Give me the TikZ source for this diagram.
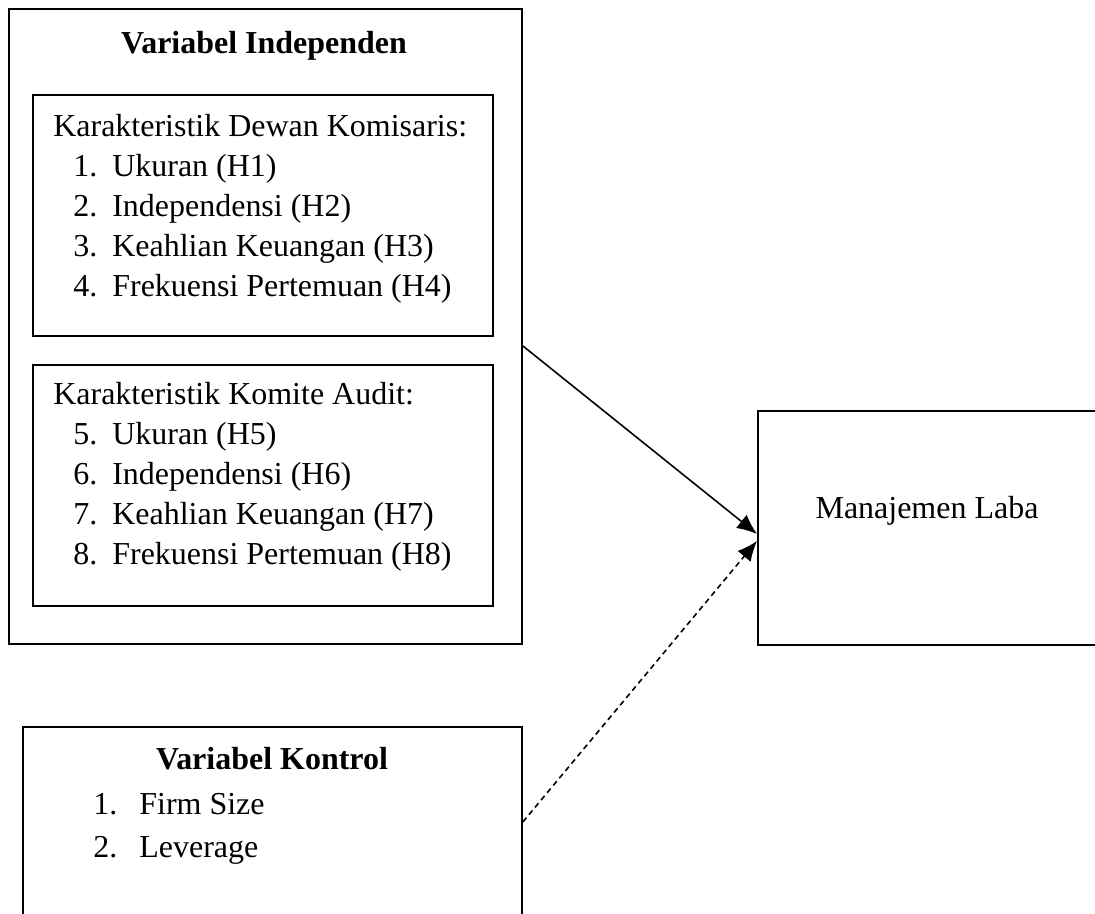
\documentclass[tikz,border=0pt]{standalone}
\usepackage{fontspec}
\setmainfont{Liberation Serif}
\usetikzlibrary{arrows.meta,positioning}

\newcommand{\nomor}[1]{\hspace*{0.4cm}\makebox[0.78cm][l]{#1}}
\newcommand{\nomork}[1]{\makebox[0.92cm][l]{#1}}

\begin{document}
\begin{tikzpicture}[
    x=0.02cm, y=-0.02cm,
    font=\fontsize{18.2}{22.8}\selectfont,
    box/.style={
        draw,
        line width=1.1pt,
        anchor=north west,
        inner sep=0pt
    },
    list/.style={align=left, anchor=north west, inner sep=0pt},
    judul/.style={font=\fontsize{18.2}{22.8}\selectfont\bfseries, anchor=base, inner sep=0pt},
    arrow/.style={-{Latex[length=4mm,width=3.4mm]}, line width=0.9pt}
]
\useasboundingbox (0,0) rectangle (1095,913);
\clip (0,0) rectangle (1095,913);

% variabel independen
\node[box, minimum width=10.26cm, minimum height=12.7cm] (indep) at (8,8) {};
\node[judul] (indepjudul) at (264,53) {Variabel Independen};

\node[box, minimum width=9.2cm, minimum height=4.82cm] (dewan) at (32,94) {};
\node[list] (dewanteks) at (53,114) {Karakteristik Dewan Komisaris:\\
    \nomor{1.}Ukuran (H1)\\
    \nomor{2.}Independensi (H2)\\
    \nomor{3.}Keahlian Keuangan (H3)\\
    \nomor{4.}Frekuensi Pertemuan (H4)};

\node[box, minimum width=9.2cm, minimum height=4.82cm] (komite) at (32,364) {};
\node[list] (komiteteks) at (53,382) {Karakteristik Komite Audit:\\
    \nomor{5.}Ukuran (H5)\\
    \nomor{6.}Independensi (H6)\\
    \nomor{7.}Keahlian Keuangan (H7)\\
    \nomor{8.}Frekuensi Pertemuan (H8)};

% variabel dependen
\node[box, minimum width=7.2cm, minimum height=4.68cm] (laba) at (757,410) {};
\node[anchor=base, inner sep=0pt] (labateks) at (927,518) {Manajemen Laba};

% variabel kontrol
\node[box, minimum width=9.98cm, minimum height=4.2cm] (kontrol) at (22,726) {};
\node[judul] (kontroljudul) at (272,769) {Variabel Kontrol};
\node[list, font=\fontsize{18.2}{24.5}\selectfont] (kontrolteks) at (93,793) {\nomork{1.}Firm Size\\
    \nomork{2.}Leverage};

\draw[arrow] ([yshift=-0.39cm]indep.east) -- ([yshift=-0.12cm]laba.west);
\draw[arrow, dash pattern=on 1.1mm off 0.8mm] ([yshift=0.2cm]kontrol.east) -- ([yshift=-0.26cm]laba.west);
\end{tikzpicture}
\end{document}
